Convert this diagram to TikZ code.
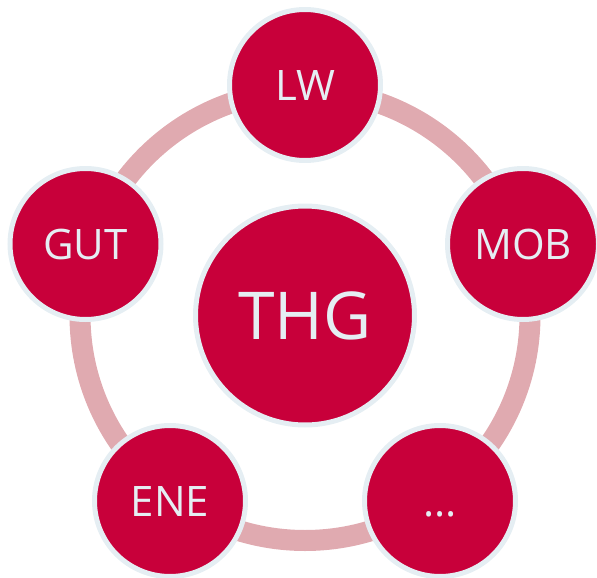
\documentclass[tikz,border=0pt]{standalone}
\usepackage{fontspec}
\setmainfont{Open Sans}
\definecolor{thgred}{HTML}{C8003A}
\definecolor{rimblue}{HTML}{E5EEF3}
\definecolor{ringpink}{HTML}{E0AAB0}
\newcommand{\moredots}{...}
\begin{document}
\begin{tikzpicture}[x=1pt,y=-1pt,
  topic/.style={circle,fill=thgred,draw=rimblue,line width=5pt,inner sep=0pt,
    minimum size=151pt,text=rimblue,font=\fontsize{42}{50}\selectfont,
    text height=30pt,text depth=0pt},
  hub/.style={topic,minimum size=219pt,font=\fontsize{66}{78}\selectfont,text height=47pt}]
  \useasboundingbox (0,0) rectangle (597,578);
  \coordinate (M) at (305,315.5);
  \draw[ringpink,line width=21pt] (M) circle (225pt);
  \node[hub] (thg) at (M) {THG};
  \foreach \n/\t/\x/\y in {lw/LW/305/85, mob/MOB/523/244, more/\moredots/440/501, ene/ENE/170/501, gut/GUT/85.5/244}
    \node[topic] (\n) at (\x,\y) {\t};
\end{tikzpicture}
\end{document}
